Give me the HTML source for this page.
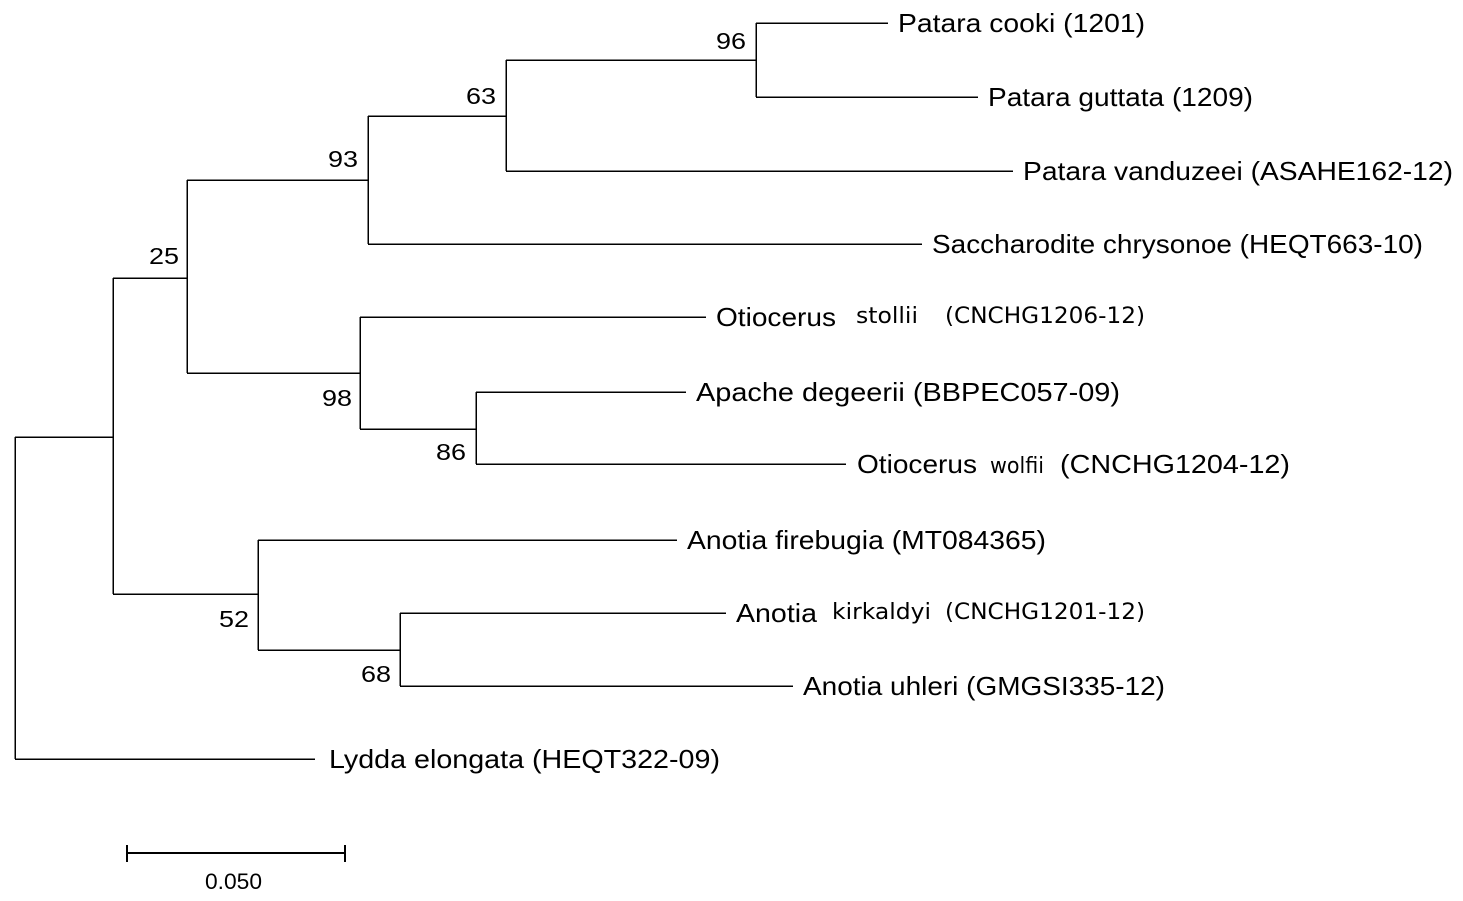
<!DOCTYPE html>
<html><head><meta charset="utf-8"><style>
html,body{margin:0;padding:0;background:#fff;}
svg{display:block;}
text{font-family:"Liberation Sans",Arial,sans-serif;fill:#000;}
.t{font-size:26px;}
.b{font-size:23px;}
.s{font-size:22px;font-family:"DejaVu Sans","Liberation Sans",sans-serif;}
</style></head><body>
<svg width="1463" height="901" viewBox="0 0 1463 901" xmlns="http://www.w3.org/2000/svg">
<g stroke="#000" stroke-width="1.5" fill="none" shape-rendering="crispEdges">
<path d="M15 437V759M15 437H113M15 759H315"/>
<path d="M113 278V594M113 278H187M113 594H258"/>
<path d="M187 180V373M187 180H368M187 373H360"/>
<path d="M368 116V244M368 116H506M368 244H922"/>
<path d="M506 60V171M506 60H756M506 171H1013"/>
<path d="M756 23V97M756 23H888M756 97H978"/>
<path d="M360 317V429M360 317H706M360 429H476"/>
<path d="M476 392V464M476 392H686M476 464H846"/>
<path d="M258 540V650M258 540H677M258 650H400"/>
<path d="M400 613V686M400 613H726M400 686H793"/>
</g>
<g stroke="#000" stroke-width="2" shape-rendering="crispEdges">
<path d="M127 853H345M127 845V862M345 845V862"/>
</g>
<text class="t" x="898" y="32" textLength="247" lengthAdjust="spacingAndGlyphs">Patara cooki (1201)</text>
<text class="t" x="988" y="106" textLength="265" lengthAdjust="spacingAndGlyphs">Patara guttata (1209)</text>
<text class="t" x="1023" y="180" textLength="430" lengthAdjust="spacingAndGlyphs">Patara vanduzeei (ASAHE162-12)</text>
<text class="t" x="932" y="253" textLength="491" lengthAdjust="spacingAndGlyphs">Saccharodite chrysonoe (HEQT663-10)</text>
<text class="t" x="716" y="326" textLength="120" lengthAdjust="spacingAndGlyphs">Otiocerus</text>
<text class="s" x="856" y="323" textLength="62" lengthAdjust="spacingAndGlyphs">stollii</text>
<text class="s" x="945" y="323" textLength="200" lengthAdjust="spacingAndGlyphs">(CNCHG1206-12)</text>
<text class="t" x="696" y="401" textLength="424" lengthAdjust="spacingAndGlyphs">Apache degeerii (BBPEC057-09)</text>
<text class="t" x="857" y="473" textLength="120" lengthAdjust="spacingAndGlyphs">Otiocerus</text>
<text class="s" x="990" y="473" textLength="54" lengthAdjust="spacingAndGlyphs">wolfii</text>
<text class="t" x="1060" y="473" textLength="230" lengthAdjust="spacingAndGlyphs">(CNCHG1204-12)</text>
<text class="t" x="687" y="549" textLength="359" lengthAdjust="spacingAndGlyphs">Anotia firebugia (MT084365)</text>
<text class="t" x="736" y="622" textLength="81" lengthAdjust="spacingAndGlyphs">Anotia</text>
<text class="s" x="832" y="619" textLength="99" lengthAdjust="spacingAndGlyphs">kirkaldyi</text>
<text class="s" x="945" y="619" textLength="200" lengthAdjust="spacingAndGlyphs">(CNCHG1201-12)</text>
<text class="t" x="803" y="695" textLength="362" lengthAdjust="spacingAndGlyphs">Anotia uhleri (GMGSI335-12)</text>
<text class="t" x="329" y="768" textLength="391" lengthAdjust="spacingAndGlyphs">Lydda elongata (HEQT322-09)</text>
<text class="b" x="716" y="49" textLength="30" lengthAdjust="spacingAndGlyphs">96</text>
<text class="b" x="466" y="104" textLength="30" lengthAdjust="spacingAndGlyphs">63</text>
<text class="b" x="328" y="167" textLength="30" lengthAdjust="spacingAndGlyphs">93</text>
<text class="b" x="149" y="264" textLength="30" lengthAdjust="spacingAndGlyphs">25</text>
<text class="b" x="322" y="406" textLength="30" lengthAdjust="spacingAndGlyphs">98</text>
<text class="b" x="436" y="460" textLength="30" lengthAdjust="spacingAndGlyphs">86</text>
<text class="b" x="219" y="627" textLength="30" lengthAdjust="spacingAndGlyphs">52</text>
<text class="b" x="361" y="682" textLength="30" lengthAdjust="spacingAndGlyphs">68</text>
<text x="205" y="889" font-size="22" textLength="57" lengthAdjust="spacingAndGlyphs">0.050</text>
</svg>
</body></html>
